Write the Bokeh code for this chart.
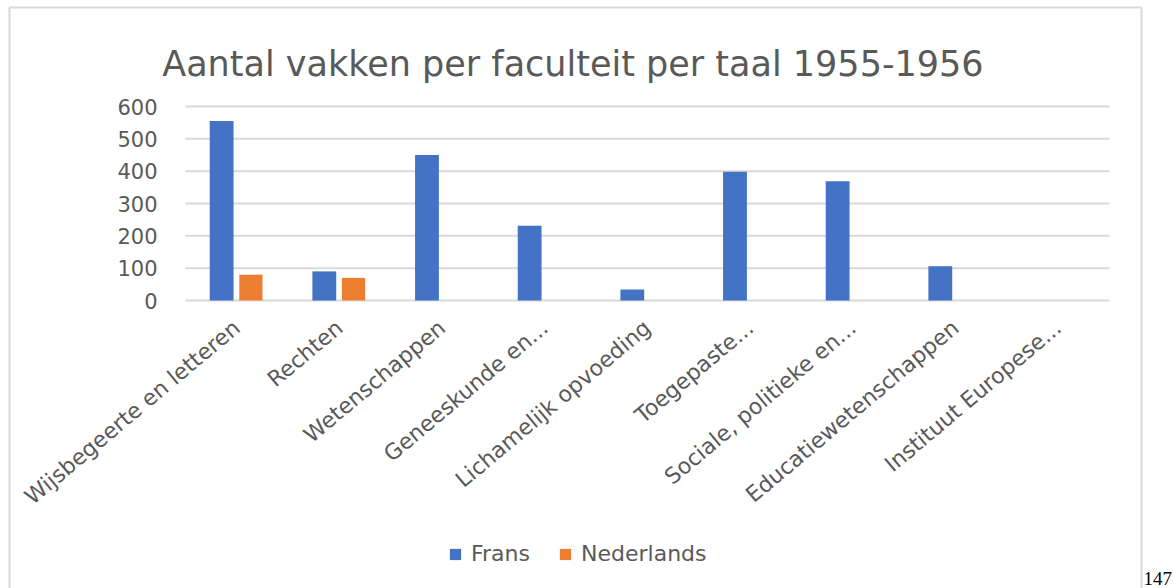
import math
from bokeh.plotting import figure
from bokeh.models import (Range1d, FixedTicker, LinearAxis, Legend, LegendItem,
                          Label, ColumnDataSource)
from bokeh.transform import dodge
from bokeh.embed import file_html
from bokeh.resources import INLINE

# ---- data ----
categories = ["Wijsbegeerte en letteren", "Rechten", "Wetenschappen",
              "Geneeskunde en...", "Lichamelijk opvoeding", "Toegepaste...",
              "Sociale, politieke en...", "Educatiewetenschappen",
              "Instituut Europese..."]
frans = [555, 90, 450, 231, 34, 398, 369, 106, 0]
nederlands = [80, 70, 0, 0, 0, 0, 0, 0, 0]
y_ticks = [0, 100, 200, 300, 400, 500, 600]
series_names = ["Frans", "Nederlands"]
title_text = "Aantal vakken per faculteit per taal 1955-1956"
page_number = "147"

# ---- layout (pixels) ----
W, H = 1173, 588
PL, PR = 185, 1109          # plot area left / right
P0, P600 = 300, 106         # y pixel of value 0 and 600
n = len(categories)
cw = (PR - PL) / n
ky = (P0 - P600) / 600.0


def sx2x(sx):
    return (sx - PL) / cw


def sy2y(sy):
    return (P0 - sy) / ky


FONT = "DejaVu Sans"
TXT = "#595959"
GRID = "#d9d9d9"

p = figure(width=W, height=H, output_backend="svg", toolbar_location=None,
           x_range=Range1d(sx2x(0), sx2x(W)), y_range=Range1d(sy2y(H), sy2y(0)),
           x_axis_location=None, y_axis_location=None, min_border=0)
p.title = None
p.outline_line_color = None
p.background_fill_color = "white"
p.border_fill_color = "white"
p.grid.visible = False

xs = [i + 0.5 for i in range(n)]
src = ColumnDataSource(dict(x=xs, frans=frans, ned=nederlands))

# gridlines (value axis) spanning the category area
p.segment(x0=[0] * len(y_ticks), x1=[n] * len(y_ticks), y0=y_ticks, y1=y_ticks,
          line_color=GRID, line_width=2)

r1 = p.vbar(x=dodge("x", -0.148), top="frans", width=0.232, source=src,
            fill_color="#4472C4", line_color=None)
r2 = p.vbar(x=dodge("x", 0.137), top="ned", width=0.226, source=src,
            fill_color="#ED7D31", line_color=None)

# axes
yax = LinearAxis(ticker=FixedTicker(ticks=y_ticks), fixed_location=0,
                 axis_line_color=None, major_tick_line_color=None,
                 minor_tick_line_color=None, major_tick_in=0, major_tick_out=0,
                 minor_tick_in=0, minor_tick_out=0, major_label_standoff=28,
                 major_label_text_font=FONT, major_label_text_font_size="21px",
                 major_label_text_color=TXT)
p.add_layout(yax, "left")

xax = LinearAxis(ticker=FixedTicker(ticks=xs),
                 major_label_overrides={x: c for x, c in zip(xs, categories)},
                 fixed_location=0, axis_line_color=None,
                 major_tick_line_color=None, minor_tick_line_color=None,
                 major_tick_in=0, major_tick_out=0, minor_tick_in=0,
                 minor_tick_out=0, major_label_orientation=math.radians(40),
                 major_label_standoff=24, major_label_text_font=FONT,
                 major_label_text_font_size="22px", major_label_text_color=TXT)
p.add_layout(xax, "below")

# title
p.add_layout(Label(x=sx2x(161.7), y=sy2y(63.3), text=title_text,
                   text_font=FONT, text_font_size="35px", text_color=TXT,
                   text_align="left", text_baseline="alphabetic"))

# legend
legend = Legend(items=[LegendItem(label=series_names[0], renderers=[r1]),
                       LegendItem(label=series_names[1], renderers=[r2])],
                location=(448, 22), orientation="horizontal",
                glyph_width=14, glyph_height=14, label_standoff=9, spacing=28,
                padding=0, margin=0, border_line_color=None,
                background_fill_alpha=0,
                label_text_font=FONT, label_text_font_size="22px",
                label_text_color=TXT)
p.add_layout(legend, "center")

# outer chart border
p.quad(left=[sx2x(9)], right=[sx2x(1141)], top=[sy2y(7)], bottom=[sy2y(H + 10)],
       fill_color=None, line_color=GRID, line_width=2)

# page number
p.add_layout(Label(x=sx2x(1143), y=sy2y(578), text=page_number,
                   text_font="Liberation Serif", text_font_size="19px",
                   text_color="black", text_baseline="alphabetic"))

open("out.html", "w").write(file_html(p, INLINE))
